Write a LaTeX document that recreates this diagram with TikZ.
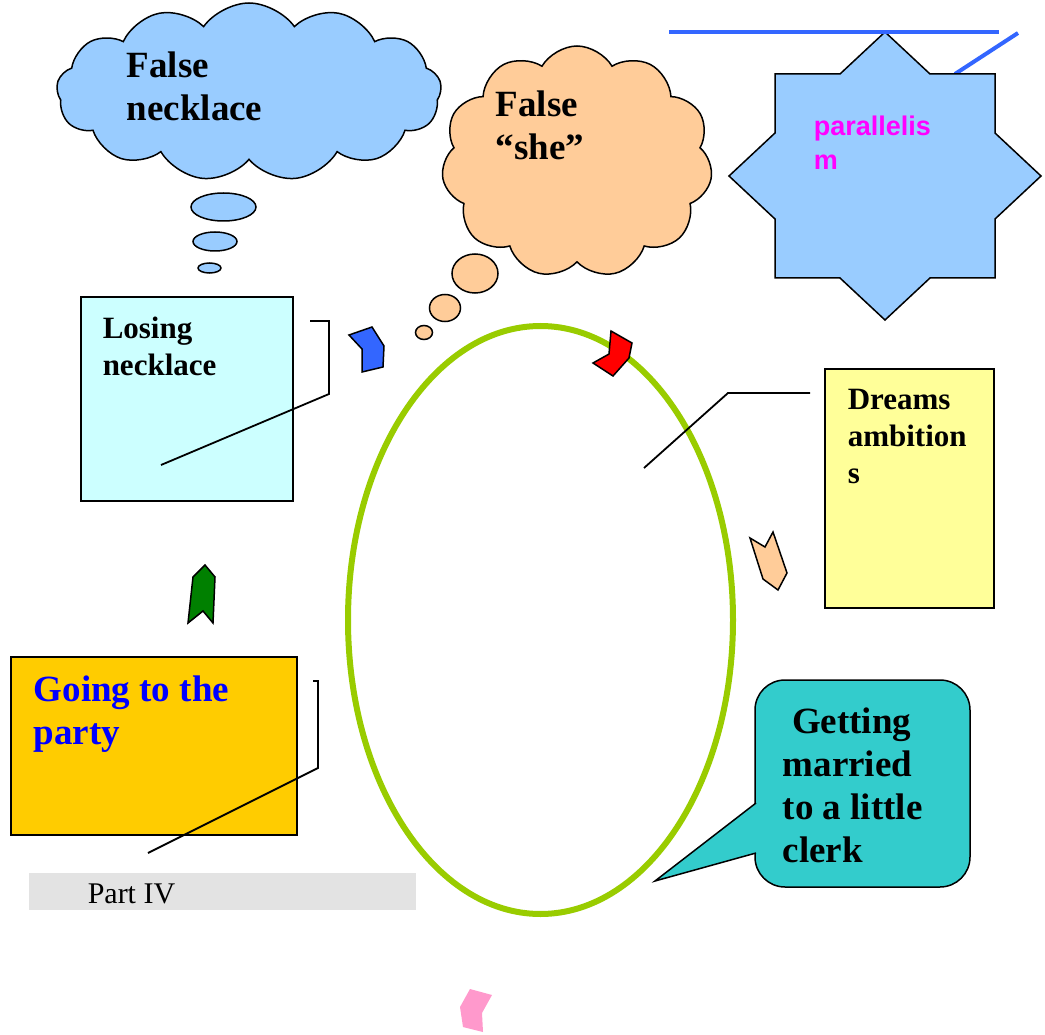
\documentclass[tikz,border=0pt]{standalone}
\usepackage{fontspec}
\setmainfont{Liberation Serif}
\setsansfont{Liberation Sans}
\usetikzlibrary{shapes.symbols,shapes.geometric}

\definecolor{skyblue}{HTML}{99CCFF}
\definecolor{peach}{HTML}{FFCC99}
\definecolor{lineblue}{HTML}{3366FF}
\definecolor{palecyan}{HTML}{CCFFFF}
\definecolor{paleyellow}{HTML}{FFFF99}
\definecolor{gold}{HTML}{FFCC00}
\definecolor{tealfill}{HTML}{33CCCC}
\definecolor{ringgreen}{HTML}{99CC00}
\definecolor{darkgreen}{HTML}{008000}
\definecolor{pinkfill}{HTML}{FF99CC}
\definecolor{bargray}{HTML}{E3E3E3}
\definecolor{hotpink}{HTML}{FF00FF}
\definecolor{textblue}{HTML}{0000FF}

\begin{document}
\begin{tikzpicture}[
x=1pt,y=-1pt,
line width=1.5pt,
think/.style={draw,cloud,inner sep=0},
puff/.style={draw,ellipse,inner sep=0},
box/.style={draw,rectangle,inner sep=0},
callline/.style={draw,line width=1.8pt},
chev/.style={draw,line width=1.5pt,line join=miter},
txt/.style={anchor=base west,align=left,inner sep=0},
big/.style={font=\bfseries\fontsize{37}{43}\selectfont},
mid/.style={font=\bfseries\fontsize{31}{37}\selectfont},
]
\useasboundingbox (0,0) rectangle (1045,1035);

%thought clouds
\node[think,fill=skyblue,minimum width=385,minimum height=178,cloud puffs=13,cloud puff arc=110,aspect=2.16] (cloud1) at (249,92) {};
\node[puff,fill=skyblue,minimum width=65,minimum height=28] (p11) at (223.5,207) {};
\node[puff,fill=skyblue,minimum width=44,minimum height=19] (p12) at (215,241.5) {};
\node[puff,fill=skyblue,minimum width=23,minimum height=10] (p13) at (209.5,268) {};

\node[think,fill=peach,minimum width=271,minimum height=232,cloud puffs=11,cloud puff arc=120,aspect=1.1] (cloud2) at (577,162) {};
\node[puff,fill=peach,minimum width=46,minimum height=39] (p21) at (475,273.5) {};
\node[puff,fill=peach,minimum width=31,minimum height=27] (p22) at (445,308) {};
\node[puff,fill=peach,minimum width=17,minimum height=14] (p23) at (424,332.5) {};

% base = last line
\node[txt,big] (tfalse1) at (126,121) {False\\necklace};
\node[txt,big] (tfalse2) at (495,160) {False\\“she”};

%star
\draw[line width=4pt,lineblue] (1018,33) -- (955,74);
\draw[fill=skyblue] (775,74) -- (840,74) -- (885,32) -- (930,74) -- (995,74) -- (995,133)
  -- (1041,176) -- (995,219) -- (995,278) -- (930,278) -- (885,320) -- (840,278)
  -- (775,278) -- (775,219) -- (729,176) -- (775,133) -- cycle;
\draw[line width=4pt,lineblue] (669,32) -- (999,32);
\node[txt,font=\sffamily\bfseries\fontsize{27}{34}\selectfont,text=hotpink] (tpar) at (813,170) {parallelis\\m};

%the ring
\node[draw=ringgreen,line width=6pt,ellipse,minimum width=385,minimum height=588,inner sep=0] (ring) at (540.5,620) {};

%boxes
\node[box,fill=palecyan,minimum width=212,minimum height=204] (lose) at (187,399) {};
\node[txt,mid] (tlose) at (102,375) {Losing\\necklace};
\coordinate (lose1) at (310,321);
\coordinate (lose2) at (329,321);
\coordinate (lose3) at (329,394);
\coordinate (lose4) at (161,465);
\path[callline] (lose1) -- (lose2) -- (lose3) -- (lose4);

\node[box,fill=paleyellow,minimum width=169,minimum height=239] (dream) at (909.5,488.5) {};
\node[txt,mid] (tdream) at (847,483) {Dreams\\ambition\\s};
\coordinate (dream1) at (810,393);
\coordinate (dream2) at (728,393);
\coordinate (dream3) at (644,468);
\path[callline] (dream1) -- (dream2) -- (dream3);

\node[box,fill=gold,minimum width=286,minimum height=178] (party) at (154,746) {};
\node[txt,big,text=textblue] (tparty) at (33,744) {Going to the\\party};
\coordinate (party1) at (313,681);
\coordinate (party2) at (318,681);
\coordinate (party3) at (318,768);
\coordinate (party4) at (148,853);
\path[callline] (party1) -- (party2) -- (party3) -- (party4);

\node[rectangle,fill=bargray,minimum width=387,minimum height=37,inner sep=0] (part) at (222.5,891.5) {};
\node[txt,font=\fontsize{30}{36}\selectfont] (tpart) at (87,903) {Part IV};

%speech bubble
\node[box,fill=tealfill,rounded corners=30,minimum width=215,minimum height=207] (clerk) at (862.5,783.5) {};
\coordinate (tailA) at (756,803);
\coordinate (tailB) at (756,853);
\coordinate (tip) at (655,881);
\fill[tealfill] (tailA) -- (tip) -- (tailB) -- cycle;
\path[draw] (tailA) -- (tip) -- (tailB);
\node[txt,big] (tclerk) at (782,862) {\ Getting\\married\\to a little\\clerk};

%arrow marks
\draw[chev,fill=lineblue] (349,335) -- (372,327) -- (384,346) -- (383,367) -- (362,372) -- (362,349) -- cycle;
\draw[chev,fill=red] (611,331) -- (632,343) -- (629,358) -- (613,376) -- (593,363) -- (609,354) -- cycle;
\draw[chev,fill=peach] (750,538) -- (765,547) -- (773,532) -- (787,573) -- (778,590) -- (763,579) -- cycle;
\draw[chev,fill=darkgreen] (205,565) -- (215,577) -- (213,623) -- (203,611) -- (188,623) -- (193,577) -- cycle;
\fill[pinkfill] (470,989) -- (492,995) -- (482,1013) -- (483,1032) -- (463,1027) -- (460,1007) -- cycle;

\end{tikzpicture}
\end{document}
